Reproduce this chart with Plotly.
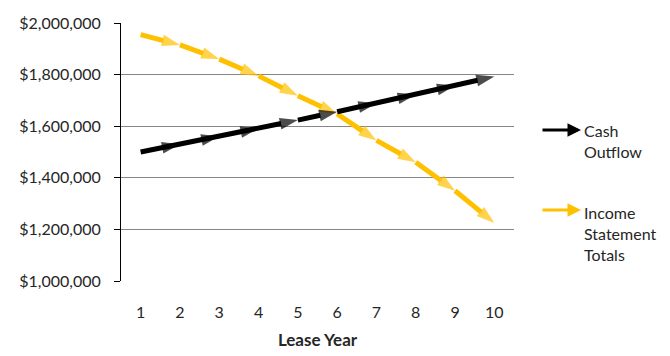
import plotly.graph_objects as go

years = [1, 2, 3, 4, 5, 6, 7, 8, 9, 10]
cash_outflow = [1500000, 1530000, 1560600, 1591800, 1623600, 1656100, 1689200, 1723000, 1757500, 1792600]
income_statement = [1955000, 1915000, 1860000, 1795000, 1718000, 1648000, 1545000, 1460000, 1350000, 1225000]
y_ticks = [1000000, 1200000, 1400000, 1600000, 1800000, 2000000]
y_tick_labels = ["$1,000,000", "$1,200,000", "$1,400,000", "$1,600,000", "$1,800,000", "$2,000,000"]

FONT = "Lato"
BLACK = "#000000"
GOLD = "#FFC000"
TXT = "#262626"

# page body has an 8px margin; compensate so the chart lands where the reference is
OFF = 8
W, H = 670 - OFF, 356 - OFF
L, T = 121 - OFF, 23 - OFF
pw, ph = 393, 258
R, B = W - L - pw, H - T - ph

def px(x):
    return (x - OFF - L) / pw

def py(y):
    return (T + ph - (y - OFF)) / ph

sizes = [0] + [19] * (len(years) - 1)

fig = go.Figure()
fig.add_trace(go.Scatter(
    x=years, y=income_statement, mode="lines+markers",
    line=dict(color=GOLD, width=5),
    marker=dict(symbol="arrow", angleref="previous", size=sizes, color=GOLD,
                line=dict(width=0)),
    showlegend=False, name="Income Statement Totals"))
fig.add_trace(go.Scatter(
    x=years, y=cash_outflow, mode="lines+markers",
    line=dict(color=BLACK, width=5),
    marker=dict(symbol="arrow", angleref="previous", size=sizes, color=BLACK,
                line=dict(width=0)),
    showlegend=False, name="Cash Outflow"))

annotations = []
for ycen, color in [(130, BLACK), (210, GOLD)]:
    annotations.append(dict(
        xref="paper", yref="paper", x=px(581), y=py(ycen),
        ax=-40, ay=0, axref="pixel", ayref="pixel",
        text="", showarrow=True, arrowhead=2, arrowsize=0.9, arrowwidth=3,
        arrowcolor=color))
annotations.append(dict(
    xref="paper", yref="paper", x=px(582), y=py(141), xanchor="left", yanchor="middle",
    text="Cash<br>Outflow", showarrow=False, align="left",
    font=dict(family=FONT, size=16, color=TXT)))
annotations.append(dict(
    xref="paper", yref="paper", x=px(582), y=py(233), xanchor="left", yanchor="middle",
    text="Income<br>Statement<br>Totals", showarrow=False, align="left",
    font=dict(family=FONT, size=16, color=TXT)))

fig.update_layout(
    width=W, height=H,
    margin=dict(l=L, r=R, t=T, b=B, pad=0, autoexpand=False),
    paper_bgcolor="white", plot_bgcolor="white",
    font=dict(family=FONT, size=16, color=TXT),
    annotations=annotations,
    xaxis=dict(
        range=[0.5, 10.5], tickmode="array", tickvals=years,
        ticktext=[str(v) for v in years], automargin=False,
        showgrid=False, zeroline=False, showline=False, ticks="",
        ticklabelstandoff=20,
        title=dict(text="<b>Lease Year</b>", font=dict(family=FONT, size=17, color=TXT), standoff=14),
    ),
    yaxis=dict(
        range=[1000000, 2000000], tickmode="array", tickvals=y_ticks, ticktext=y_tick_labels,
        automargin=False,
        showgrid=True, gridcolor="#868686", gridwidth=1, zeroline=False,
        showline=True, linecolor=BLACK, linewidth=1,
        ticks="outside", ticklen=6, tickcolor=BLACK, tickwidth=1,
        ticklabelstandoff=10,
    ),
)

fig.write_html("out.html")
